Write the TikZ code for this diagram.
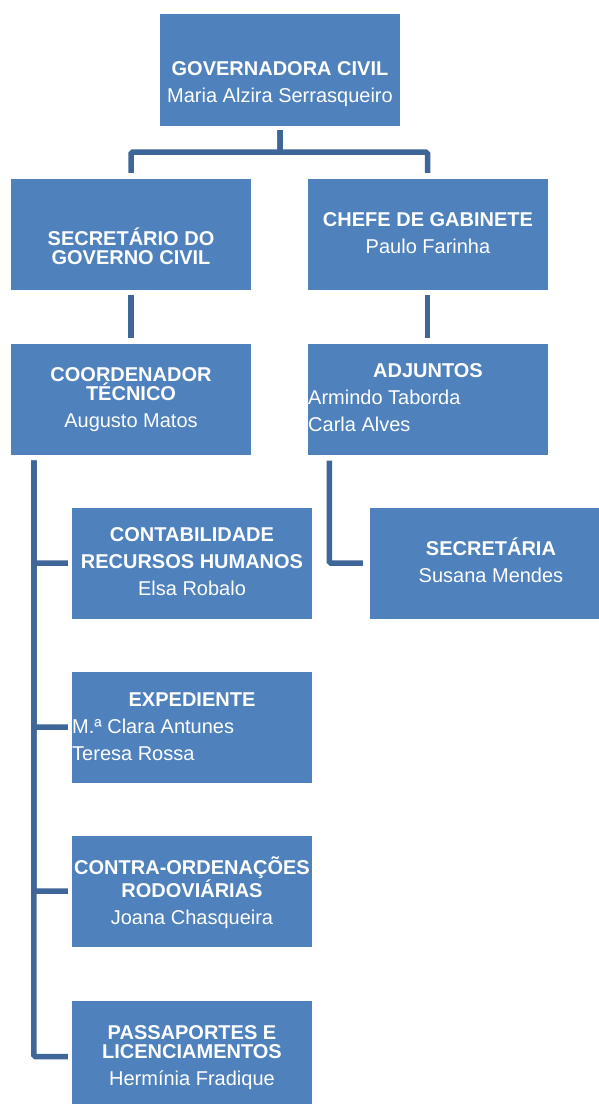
\documentclass[tikz,border=0pt]{standalone}
\usepackage{fontspec}
\setmainfont{Liberation Sans}
\definecolor{boxblue}{HTML}{4F81BD}
\definecolor{lineblue}{HTML}{3F6699}
\newcommand{\capstrut}{\rule{0pt}{19pt}}
\tikzset{
  unit/.style={fill=boxblue, inner sep=0pt, minimum width=240pt, minimum height=111pt},
  head/.style={text=white, inner sep=0pt, align=center, anchor=north,
    font=\fontsize{20}{19}\selectfont},
  names/.style={head, align=left, anchor=north west},
  link/.style={draw=lineblue, line width=5.5pt, rounded corners=1.5pt, shorten <=5pt, shorten >=5pt}
}
\begin{document}
\begin{tikzpicture}[x=1pt,y=-1pt]
\useasboundingbox (0,0) rectangle (598,1104);

% boxes
\node[unit, minimum height=112pt] (gov) at (280,70) {};
\node[unit] (sec) at (131,234.5) {};
\node[unit] (chefe) at (427.5,234.5) {};
\node[unit] (coord) at (131,399) {};
\node[unit] (adj) at (427.5,399) {};
\node[unit] (contab) at (192,563) {};
\node[unit] (secr) at (490,563) {};
\node[unit] (exped) at (192,727) {};
\node[unit] (contra) at (192,891) {};
\node[unit] (pass) at (192,1056.5) {};

% texts
\node[head] (gov-t) at (280,56) {\capstrut\textbf{GOVERNADORA CIVIL}\\[8pt]Maria Alzira Serrasqueiro};
\node[head] (sec-t) at (131,226) {\capstrut\textbf{SECRETÁRIO DO}\\\textbf{GOVERNO CIVIL}};
\node[head] (chefe-t) at (428,207) {\capstrut\textbf{CHEFE DE GABINETE}\\[8pt]Paulo Farinha};
\node[head] (coord-t) at (131,362) {\capstrut\textbf{COORDENADOR}\\\textbf{TÉCNICO}\\[8pt]Augusto Matos};
\node[head] (adj-t) at (428,358) {\capstrut\textbf{ADJUNTOS}};
\node[names] (adj-n) at (308,385) {\capstrut Armindo Taborda\\[8pt]Carla Alves};
\node[head] (contab-t) at (192,522) {\capstrut\textbf{CONTABILIDADE}\\[8pt]\textbf{RECURSOS HUMANOS}\\[8pt]Elsa Robalo};
\node[head] (secr-t) at (491,536) {\capstrut\textbf{SECRETÁRIA}\\[8pt]Susana Mendes};
\node[head] (exped-t) at (192,687) {\capstrut\textbf{EXPEDIENTE}};
\node[names] (exped-n) at (72,714) {\capstrut M.ª Clara Antunes\\[8pt]Teresa Rossa};
\node[head] (contra-t) at (192,855) {\capstrut\textbf{CONTRA-ORDENAÇÕES}\\\textbf{RODOVIÁRIAS}\\[8pt]Joana Chasqueira};
\node[head] (pass-t) at (192,1020) {\capstrut\textbf{PASSAPORTES E}\\\textbf{LICENCIAMENTOS}\\[8pt]Hermínia Fradique};

% connectors
\draw[link, shorten <=4pt, shorten >=6pt] (gov.south) -- ++(0,26) -| (sec.north);
\draw[link, shorten <=4pt, shorten >=6pt] (gov.south) -- ++(0,26) -| (chefe.north);
\draw[link] (sec) -- (coord);
\draw[link] (chefe) -- (adj);
\coordinate (trunk) at ([xshift=23pt]coord.south west);
\coordinate (adjtrunk) at ([xshift=22pt]adj.south west);
\foreach \k in {contab,exped,contra,pass}
  \draw[link, shorten <=6pt, shorten >=4pt] (trunk) |- (\k.west);
\draw[link, shorten <=6pt, shorten >=7pt] (adjtrunk) |- (secr.west);
\end{tikzpicture}
\end{document}
